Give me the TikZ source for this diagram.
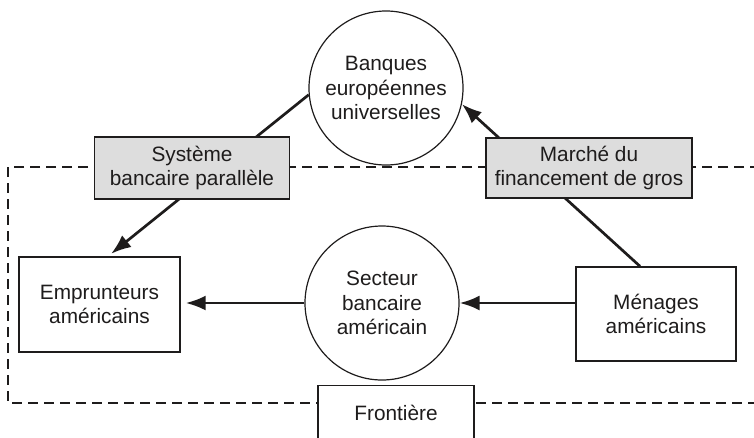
\documentclass[tikz,border=0pt]{standalone}
\usepackage{fontspec}
\setmainfont{Liberation Sans}
\usetikzlibrary{
  arrows.meta,
  calc
}
\definecolor{fcLine}{RGB}{30,28,28}
\definecolor{fcShade}{RGB}{221,221,221}
\tikzset{
  fcbox/.style={
    draw=fcLine,
    line width=1.4pt,
    align=center,
    inner sep=0pt,
    fill=white,
    text=fcLine,
    font=\fontsize{20.8}{24.5}\selectfont
  },
  fcround/.style={
    fcbox,
    circle,
    line width=1.2pt,
    minimum size=154pt
  },
  fcshaded/.style={
    fcbox,
    fill=fcShade
  },
  fcarrow/.style={
    -{Latex[length=20pt,width=15pt]},
    line width=2.7pt,
    draw=fcLine
  },
  fcfrontier/.style={
    dashed,
    dash pattern=on 10pt off 6pt,
    line width=1.2pt,
    draw=fcLine
  }
}

\begin{document}
\begin{tikzpicture}[x=1pt,y=-1pt]
  \clip (0,0) rectangle (754,437);

  % frontier line
  \draw[fcfrontier] (760,167) -- (8,167) -- (8,403) -- (760,403);

  \node[fcround] (banques) at (386,88)
    {Banques\\européennes\\universelles};
  \node[fcround] (secteur) at (382,303)
    {Secteur\\bancaire\\américain};
  \node[fcbox, minimum width=161pt, minimum height=95pt] (emprunteurs) at (99.5,304.5)
    {Emprunteurs\\américains};
  \node[fcbox, minimum width=160pt, minimum height=94pt] (menages) at (656,314)
    {Ménages\\américains};

  \draw[fcarrow, shorten >=5pt] (secteur.west) -- (secteur.west -| emprunteurs.east);
  \draw[fcarrow] (menages.west |- secteur) -- (secteur.east);
  \draw[fcarrow, shorten >=4pt] (banques.185) -- ($(emprunteurs.north)+(8.5,0)$);
  \draw[fcarrow] ($(menages.north)+(-16,0)$) -- (banques.-12);

  \node[fcshaded, minimum width=195pt, minimum height=62pt] (systeme) at (192,168)
    {Système\\bancaire parallèle};
  \node[fcshaded, minimum width=206pt, minimum height=60pt] (marche) at (589,168)
    {Marché du\\financement de gros};
  \node[fcbox, minimum width=156pt, minimum height=54pt, anchor=north] (frontiere) at (396,385)
    {Frontière};
\end{tikzpicture}
\end{document}
